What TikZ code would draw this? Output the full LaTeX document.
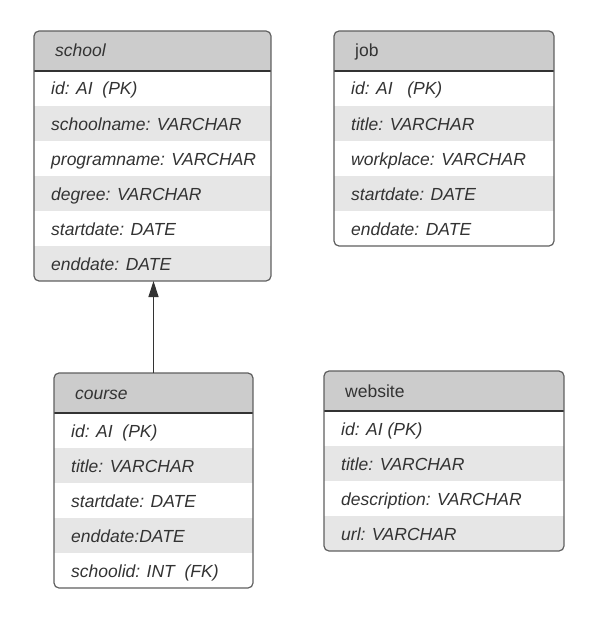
\documentclass[tikz,border=0pt]{standalone}
\usepackage{fontspec}
\setmainfont{Liberation Sans}
\usetikzlibrary{arrows.meta}
\definecolor{headfill}{HTML}{CCCCCC}
\definecolor{rowgray}{HTML}{E6E6E6}
\definecolor{txt}{HTML}{333333}
\definecolor{bordercol}{HTML}{5F5F5F}
\tikzset{
  tablebox/.style={draw=bordercol, line width=1.2pt, rounded corners=5pt, inner sep=0pt, outer sep=0pt, fill=none},
  headline/.style={draw=txt, line width=1.4pt},
  rowtext/.style={inner sep=0pt, text=txt, font=\fontsize{17.5}{21}\selectfont\itshape},
  headtext/.style={inner sep=0pt, text=txt, font=\fontsize{17.5}{21}\selectfont},
  link/.style={draw=txt, line width=1.2pt, -{Triangle[length=16pt,width=10pt]}},
}
% #1 name, #2 left, #3 top (downwards), #4 width, #5 rows, #6 header, #7 fill/text list
\newcommand\erdtable[7]{%
  \pgfmathsetmacro\erdH{40+35*#5}%
  \begin{scope}
    \clip[rounded corners=5pt] (#2,-#3) rectangle ++(#4,-\erdH);
    \fill[headfill] (#2,-#3) rectangle ++(#4,-40);
    \foreach \f/\t [count=\i] in {#7} {
      \fill[\f] (#2,{-#3-40-35*(\i-1)}) rectangle ++(#4,-35);
      \node[rowtext, anchor=base west] (#1-\i) at ({#2+17},{-#3-40-35*(\i-1)-17.5-6.5}) {\t};
    }
  \end{scope}
  \draw[headline] (#2,{-#3-40}) -- ++(#4,0);
  \node[tablebox, minimum width=#4pt, minimum height=\erdH pt, anchor=north west] (#1) at (#2,-#3) {};
  \node[headtext, anchor=base west] (#1-h) at ({#2+21},{-#3-20-6}) {#6};
}
\begin{document}
\begin{tikzpicture}[x=1pt,y=1pt]
\useasboundingbox (0,0) rectangle (596,-623);
\erdtable{school}{34}{31}{237}{6}{\itshape school}{white/id: AI\ \ (PK), rowgray/schoolname: VARCHAR, white/programname: VARCHAR, rowgray/degree: VARCHAR, white/startdate: DATE, rowgray/enddate: DATE}
\erdtable{job}{334}{31}{220}{5}{job}{white/id: AI\ \ \ (PK), rowgray/title: VARCHAR, white/workplace: VARCHAR, rowgray/startdate: DATE, white/enddate: DATE}
\erdtable{course}{54}{373}{199}{5}{\itshape course}{white/id: AI\ \ (PK), rowgray/title: VARCHAR, white/startdate: DATE, rowgray/enddate:DATE, white/schoolid: INT\ \ (FK)}
\erdtable{website}{324}{371}{240}{4}{website}{white/id: AI (PK), rowgray/title: VARCHAR, white/description: VARCHAR, rowgray/url: VARCHAR}
\draw[link] (course.north) -- (course.north |- school.south);
\end{tikzpicture}
\end{document}
